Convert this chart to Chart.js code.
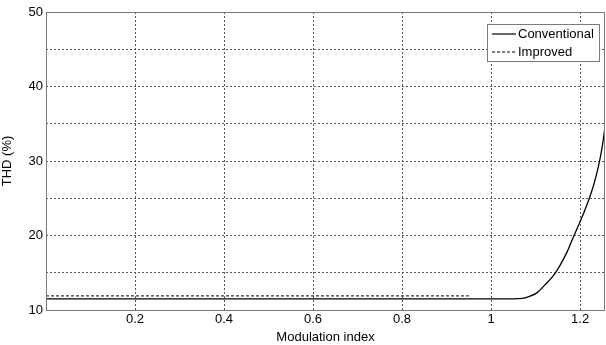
<!DOCTYPE html>
<html>
<head>
<meta charset="utf-8">
<script src="https://cdn.jsdelivr.net/npm/chart.js@4"></script>
<style>
  html, body { margin: 0; padding: 0; background: #fff; }
  #wrap { width: 606px; height: 345px; }
</style>
</head>
<body>
<div id="wrap"><canvas id="thd"></canvas></div>
<script>
// values
const seriesNames = ["Conventional", "Improved"];
const conventionalX = [0, 0.5, 1.0, 1.05, 1.07, 1.085, 1.103, 1.12, 1.14, 1.155, 1.17, 1.185, 1.196, 1.21, 1.222, 1.232, 1.241, 1.25, 1.258];
const conventionalY = [11.5, 11.5, 11.5, 11.5, 11.55, 11.8, 12.3, 13.3, 14.6, 16.0, 17.7, 19.8, 21.3, 23.3, 25.2, 27.1, 29.2, 32.0, 35.5];
const improvedX = [0, 0.5, 0.95];
const improvedY = [11.9, 11.9, 11.9];
const xTicks = [0.2, 0.4, 0.6, 0.8, 1, 1.2];
const yTickLabels = [10, 20, 30, 40, 50];

const toPoints = (xs, ys) => xs.map((x, i) => ({ x: x, y: ys[i] }));

const font = { family: "'Liberation Sans', Arial, sans-serif", size: 13 };

const frame = {
  id: "frame",
  afterDraw(chart) {
    const { ctx, chartArea: a } = chart;
    ctx.save();
    ctx.strokeStyle = "#7a7a7a";
    ctx.lineWidth = 1;
    ctx.strokeRect(a.left + 0.5, a.top + 0.5, a.right - a.left - 1, a.bottom - a.top);
    // legend box
    const bx = 487, by = 24, bw = 112, bh = 37;
    ctx.fillStyle = "#fff";
    ctx.fillRect(bx, by, bw, bh);
    ctx.strokeRect(bx + 0.5, by + 0.5, bw, bh);
    ctx.font = "13px " + font.family;
    ctx.textBaseline = "middle";
    chart.data.datasets.forEach((ds, i) => {
      const yy = by + 10 + i * 18;
      ctx.strokeStyle = "#000";
      ctx.lineWidth = 1.2;
      ctx.setLineDash(ds.borderDash || []);
      ctx.beginPath();
      ctx.moveTo(bx + 5, yy);
      ctx.lineTo(bx + 29, yy);
      ctx.stroke();
      ctx.setLineDash([]);
      ctx.fillStyle = "#000";
      ctx.fillText(ds.label, bx + 31, yy);
      ctx.strokeStyle = "#7a7a7a";
      ctx.lineWidth = 1;
    });
    ctx.restore();
  }
};

new Chart(document.getElementById("thd"), {
  type: "line",
  data: {
    datasets: [
      {
        label: seriesNames[0],
        data: toPoints(conventionalX, conventionalY),
        borderColor: "#000",
        borderWidth: 1.3,
        pointRadius: 0,
        cubicInterpolationMode: "monotone"
      },
      {
        label: seriesNames[1],
        data: toPoints(improvedX, improvedY),
        borderColor: "#333",
        borderWidth: 1.3,
        borderDash: [3, 2],
        pointRadius: 0
      }
    ]
  },
  options: {
    responsive: true,
    maintainAspectRatio: false,
    animation: false,
    layout: { padding: { top: 12, right: 1, left: 0, bottom: 0 } },
    plugins: { legend: { display: false }, tooltip: { enabled: false } },
    scales: {
      x: {
        type: "linear",
        min: 0,
        max: 1.256,
        afterBuildTicks: (s) => { s.ticks = xTicks.map((v) => ({ value: v })); },
        afterFit: (s) => { s.height = 35; },
        ticks: { font: font, color: "#000", padding: 2, maxRotation: 0,
                 callback: (v) => String(v) },
        grid: { color: "#555", lineWidth: 1, drawTicks: false },
        border: { display: false, dash: [2, 2] },
        title: { display: true, text: "Modulation index", font: font, color: "#000", padding: { top: 0, bottom: 0 } }
      },
      y: {
        min: 10,
        max: 50,
        afterFit: (s) => { s.width = 46; },
        ticks: { stepSize: 5, font: font, color: "#000", padding: 3,
                 callback: (v) => (yTickLabels.includes(v) ? String(v) : "") },
        grid: { color: "#555", lineWidth: 1, drawTicks: false },
        border: { display: false, dash: [2, 2] },
        title: { display: true, text: "THD (%)", font: font, color: "#000", padding: { top: 0, bottom: 3 } }
      }
    }
  },
  plugins: [frame]
});
</script>
</body>
</html>
